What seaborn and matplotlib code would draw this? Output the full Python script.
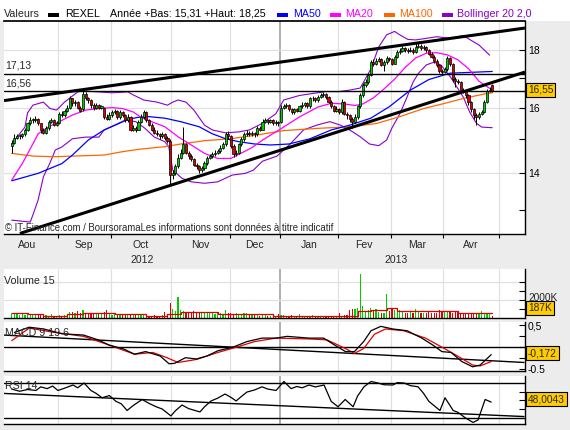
import numpy as np
import pandas as pd
import matplotlib
matplotlib.use("Agg")
import matplotlib.pyplot as plt
import matplotlib.transforms as mtransforms
from matplotlib.patches import Rectangle
from matplotlib.ticker import FixedLocator, FixedFormatter, NullLocator
import seaborn as sns

sns.set_theme(style="white")
plt.rcParams["font.family"] = ["Liberation Sans", "DejaVu Sans"]

W, H = 570, 430
BG = "#ECECEC"
GRID = "#E0E0E0"

# ---------------- data (REXEL, daily, 8 Aug 2012 -> 26 Apr 2013) ----------------
opens = [14.80, 14.90, 15.05, 15.10, 15.10, 15.15, 15.30, 15.50, 15.60, 15.60,
         15.65, 15.50, 15.30, 15.20, 15.35, 15.55, 15.60, 15.45, 15.50, 15.80,
         15.75, 15.90, 16.00, 16.30, 16.15, 16.20, 16.00, 15.95, 16.45, 16.30,
         16.25, 16.10, 16.00, 16.10, 16.00, 16.00, 15.70, 15.65, 15.75, 15.85,
         15.90, 15.70, 15.85, 15.75, 15.60, 15.70, 15.30, 15.35, 15.30, 15.55,
         15.70, 15.85, 15.60, 15.45, 15.30, 15.20, 15.15, 15.10, 15.15, 15.05,
         14.95, 13.95, 14.00, 14.20, 14.45, 14.60, 14.85, 14.60, 14.50, 14.40,
         14.25, 14.20, 14.10, 14.15, 14.30, 14.45, 14.50, 14.55, 14.60, 14.65,
         14.75, 14.85, 15.15, 15.10, 14.80, 14.55, 14.60, 14.85, 15.00, 15.15,
         15.20, 15.15, 15.20, 15.15, 15.35, 15.30, 15.55, 15.60, 15.55, 15.60,
         15.50, 15.55, 15.55, 16.00, 16.05, 16.10, 15.95, 15.85, 15.95, 15.90,
         16.05, 16.10, 16.15, 16.05, 16.30, 16.30, 16.25, 16.35, 16.40, 16.45,
         16.35, 16.20, 16.05, 15.90, 15.95, 15.85, 16.20, 15.80, 15.75, 15.65,
         15.55, 15.70, 16.05, 16.40, 16.75, 16.85, 17.10, 17.55, 17.50, 17.60,
         17.65, 17.45, 17.55, 17.70, 17.65, 17.50, 17.75, 17.90, 17.95, 18.05,
         18.00, 17.95, 18.00, 17.90, 18.10, 18.15, 18.05, 18.10, 18.00, 17.85,
         17.75, 17.60, 17.45, 17.25, 17.20, 17.30, 17.70, 17.50, 16.95, 16.90,
         16.85, 16.60, 16.55, 16.40, 16.20, 15.95, 15.75, 15.70, 15.80, 15.85,
         16.20, 16.55, 16.75]
highs = [14.98, 15.15, 15.15, 15.15, 15.20, 15.35, 15.55, 15.70, 15.68, 15.72,
         15.68, 15.52, 15.35, 15.40, 15.60, 15.68, 15.62, 15.58, 15.85, 15.88,
         15.95, 16.10, 16.38, 16.32, 16.25, 16.22, 16.05, 16.62, 16.50, 16.35,
         16.28, 16.15, 16.15, 16.12, 16.10, 16.02, 15.78, 15.85, 15.92, 15.95,
         15.92, 15.92, 15.90, 15.80, 15.78, 15.72, 15.45, 15.40, 15.60, 15.78,
         15.92, 15.88, 15.62, 15.50, 15.38, 15.30, 15.20, 15.22, 15.20, 15.10,
         15.00, 14.10, 14.28, 14.55, 14.70, 15.38, 14.88, 14.65, 14.55, 14.45,
         14.30, 14.25, 14.22, 14.35, 14.50, 14.55, 14.62, 14.68, 14.72, 14.82,
         14.92, 15.22, 15.25, 15.12, 14.85, 14.68, 14.90, 15.08, 15.22, 15.28,
         15.25, 15.25, 15.22, 15.40, 15.42, 15.62, 15.68, 15.65, 15.65, 15.62,
         15.60, 15.58, 16.08, 16.12, 16.15, 16.12, 16.00, 16.00, 16.00, 16.10,
         16.18, 16.20, 16.20, 16.35, 16.38, 16.35, 16.42, 16.48, 16.52, 16.48,
         16.38, 16.25, 16.08, 16.05, 16.00, 16.28, 16.22, 15.85, 15.80, 15.70,
         15.78, 16.10, 16.48, 16.82, 16.95, 17.18, 17.62, 17.65, 17.68, 17.72,
         17.68, 17.62, 17.78, 17.75, 17.70, 17.82, 17.98, 18.05, 18.12, 18.10,
         18.05, 18.08, 18.05, 18.25, 18.25, 18.20, 18.18, 18.15, 18.02, 17.90,
         17.80, 17.65, 17.50, 17.32, 17.38, 17.78, 17.75, 17.52, 17.02, 16.95,
         16.88, 16.65, 16.58, 16.45, 16.22, 16.00, 15.82, 15.85, 15.92, 16.25,
         16.62, 16.70, 16.78]
lows = [14.58, 14.85, 15.00, 15.02, 15.05, 15.10, 15.25, 15.45, 15.52, 15.55,
        15.45, 15.20, 15.15, 15.15, 15.30, 15.50, 15.40, 15.40, 15.48, 15.70,
        15.70, 15.85, 15.95, 16.05, 16.05, 15.95, 15.85, 15.90, 16.25, 16.15,
        16.00, 15.92, 15.95, 15.95, 15.95, 15.65, 15.60, 15.60, 15.70, 15.78,
        15.65, 15.65, 15.70, 15.55, 15.55, 15.25, 15.25, 15.22, 15.28, 15.50,
        15.65, 15.55, 15.40, 15.25, 15.15, 15.10, 15.02, 15.05, 14.98, 14.90,
        13.70, 13.85, 13.95, 14.15, 14.40, 14.55, 14.55, 14.42, 14.35, 14.20,
        14.12, 14.02, 14.05, 14.10, 14.25, 14.40, 14.45, 14.50, 14.55, 14.60,
        14.70, 14.80, 15.02, 14.75, 14.48, 14.50, 14.55, 14.80, 14.95, 15.10,
        15.10, 15.10, 15.08, 15.10, 15.25, 15.28, 15.50, 15.48, 15.50, 15.45,
        15.45, 15.42, 15.50, 15.95, 15.98, 15.90, 15.80, 15.80, 15.85, 15.85,
        16.00, 16.02, 16.00, 16.00, 16.22, 16.18, 16.20, 16.30, 16.35, 16.28,
        16.15, 15.98, 15.85, 15.85, 15.78, 15.80, 15.75, 15.62, 15.55, 15.35,
        15.50, 15.65, 16.00, 16.35, 16.70, 16.80, 17.05, 17.40, 17.45, 17.55,
        17.40, 17.25, 17.50, 17.58, 17.45, 17.48, 17.70, 17.85, 17.90, 17.92,
        17.88, 17.90, 17.85, 17.88, 18.05, 18.00, 18.00, 17.92, 17.80, 17.68,
        17.52, 17.38, 17.18, 17.12, 17.15, 17.25, 17.42, 16.85, 16.70, 16.78,
        16.55, 16.48, 16.32, 16.10, 15.85, 15.65, 15.45, 15.65, 15.75, 15.82,
        16.15, 16.50, 16.50]
closes = [14.90, 15.05, 15.10, 15.10, 15.15, 15.30, 15.50, 15.60, 15.60, 15.65,
          15.50, 15.30, 15.20, 15.35, 15.55, 15.60, 15.45, 15.50, 15.80, 15.75,
          15.90, 16.00, 16.30, 16.15, 16.20, 16.00, 15.90, 16.45, 16.30, 16.25,
          16.10, 16.00, 16.10, 16.00, 16.05, 15.70, 15.65, 15.75, 15.85, 15.90,
          15.70, 15.85, 15.75, 15.60, 15.70, 15.30, 15.35, 15.30, 15.55, 15.70,
          15.85, 15.60, 15.45, 15.30, 15.20, 15.15, 15.10, 15.15, 15.05, 14.95,
          13.95, 14.00, 14.20, 14.45, 14.60, 14.85, 14.60, 14.50, 14.40, 14.25,
          14.20, 14.10, 14.15, 14.30, 14.45, 14.50, 14.55, 14.60, 14.65, 14.75,
          14.85, 15.15, 15.10, 14.80, 14.55, 14.60, 14.85, 15.00, 15.15, 15.20,
          15.15, 15.20, 15.15, 15.35, 15.30, 15.55, 15.60, 15.55, 15.60, 15.50,
          15.55, 15.50, 16.00, 16.05, 16.10, 15.95, 15.85, 15.95, 15.90, 16.05,
          16.10, 16.15, 16.05, 16.30, 16.30, 16.25, 16.35, 16.40, 16.45, 16.35,
          16.20, 16.05, 15.90, 15.95, 15.85, 16.20, 15.80, 15.75, 15.65, 15.55,
          15.70, 16.05, 16.40, 16.75, 16.85, 17.10, 17.55, 17.50, 17.60, 17.65,
          17.45, 17.55, 17.70, 17.65, 17.50, 17.75, 17.90, 17.95, 18.05, 18.00,
          17.95, 18.00, 17.90, 18.10, 18.15, 18.05, 18.10, 18.00, 17.85, 17.75,
          17.60, 17.45, 17.25, 17.20, 17.30, 17.70, 17.50, 16.95, 16.90, 16.85,
          16.60, 16.55, 16.40, 16.20, 15.95, 15.75, 15.70, 15.80, 15.85, 16.20,
          16.55, 16.60, 16.55]
volume_k = [560, 450, 520, 380, 420, 350, 560, 480, 380, 420, 300, 280, 250, 300, 260,
            420, 230, 260, 300, 250, 380, 420,
            700, 650, 520, 720, 600, 850, 560, 480, 520,
            560, 500, 580, 520, 620, 880, 420, 380, 450, 360,
            400, 350, 420, 380, 450, 400, 300, 280, 320, 300,
            220, 260, 200, 280, 240, 250, 320, 700, 450,
            1600, 950, 800, 2300, 900,
            800, 700, 650, 600, 750, 550, 600, 500, 650, 580, 520, 600, 480, 550, 500, 450,
            880, 560, 520, 480, 600, 460, 400, 520, 560, 480,
            300, 280, 320, 260, 350, 280, 250, 230, 220, 200, 420,
            380, 280, 250, 230, 280, 200, 230, 400, 220, 200, 250, 230, 280, 200,
            230, 190, 220, 200, 250, 220, 200, 230, 550, 250, 280, 300, 900, 1000,
            950, 1150, 4900, 1300, 800, 900, 1100, 850, 950, 700, 520,
            600, 2600, 800, 950, 900, 750, 850, 620, 580, 520,
            620, 580, 1000, 720, 540, 580, 500, 680, 600, 540, 500,
            850, 800, 750, 700, 650, 600, 700, 650, 550, 600, 500,
            550, 480, 520, 450, 500, 800, 520, 450, 500, 190]

# indicator curves (x = trading-day index)
ma20_x = [0, 4, 8, 10, 14, 18, 23, 28, 33, 38, 42, 46, 49, 53, 58, 63, 68, 73, 78, 83,
          88, 91, 95, 102, 109, 116, 121, 126, 130, 133, 137, 141, 145, 149, 153, 157, 161, 165, 169, 173,
          177, 182]
ma20_v = [13.81, 14.28, 14.86, 15.17, 15.39, 15.55, 15.76, 15.92, 15.97, 16.00, 15.97, 15.86, 15.69, 15.55,
          15.39, 15.08, 14.83, 14.58, 14.43, 14.43, 14.63, 14.75, 14.98, 15.33, 15.70, 16.02, 16.14, 16.12,
          16.07, 16.12, 16.32, 16.62, 16.95, 17.36, 17.70, 17.87, 17.89, 17.81, 17.63, 17.32, 16.88, 16.58]
ma50_x = [0, 10, 19, 23, 29, 35, 40, 44, 48, 52, 58, 64, 71, 76, 81, 86, 92, 98, 105, 113,
          121, 128, 136, 143, 151, 158, 166, 174, 182]
ma50_v = [13.79, 14.00, 14.28, 14.53, 14.98, 15.29, 15.47, 15.62, 15.69, 15.71, 15.66, 15.55, 15.39, 15.17,
          15.02, 14.93, 14.86, 14.83, 14.86, 15.02, 15.29, 15.44, 15.66, 16.03, 16.58, 16.94, 17.16, 17.19, 17.22]
ma100_x = [0, 8, 16, 35, 42, 48, 58, 64, 73, 83, 94, 103, 116, 128, 138, 147, 156, 164, 171, 179, 182]
ma100_v = [14.58, 14.50, 14.48, 14.53, 14.63, 14.70, 14.78, 14.86, 14.96, 15.02, 15.15, 15.27, 15.34, 15.39,
           15.49, 15.71, 15.97, 16.14, 16.30, 16.45, 16.49]
bb_up_x = [0, 5, 6, 8, 12, 14.5, 17, 20, 25, 27, 33, 38, 44, 46, 50, 55, 59, 61, 63, 66,
           69, 73, 76, 81, 86, 90, 95, 100, 103, 109, 115, 119, 124, 128, 132, 136, 139, 142, 145, 147,
           150, 153, 157, 161, 166, 171, 177, 181]
bb_up_v = [14.86, 15.38, 15.83, 16.08, 16.18, 15.97, 15.92, 16.18, 16.52, 16.55, 16.52, 16.49, 16.52, 16.42,
           16.25, 16.18, 16.08, 16.18, 16.25, 16.18, 15.92, 15.44, 15.29, 15.20, 15.23, 15.29, 15.50, 15.80,
           16.25, 16.40, 16.48, 16.53, 16.53, 16.58, 16.65, 17.30, 18.10, 18.55, 18.68, 18.55, 18.38, 18.36,
           18.42, 18.48, 18.42, 18.52, 18.17, 17.80]
bb_lo_x = [0, 7, 8, 10, 12, 14.5, 16.5, 19, 23, 28, 33, 35, 39, 43, 47, 50.5, 54, 58, 59.5, 61,
           64.5, 68, 73, 78, 83.5, 88.5, 91.5, 95, 100.5, 105.5, 110.5, 115.5, 120.5, 124.5, 128, 132, 135.5,
           139, 142, 144, 147, 149.5, 152, 154, 157, 160, 162.5, 166, 171, 173.5, 176, 178, 182]
bb_lo_v = [12.73, 12.68, 12.86, 13.26, 13.90, 14.30, 14.68, 14.77, 15.02, 15.07, 15.07, 15.29, 15.44, 15.60,
           15.55, 15.34, 15.07, 14.93, 14.77, 14.09, 13.86, 13.76, 13.72, 13.76, 13.95, 14.00, 14.09, 14.35,
           14.50, 14.86, 15.29, 15.44, 15.55, 15.44, 15.29, 15.08, 14.86, 14.81, 14.98, 15.35, 15.80, 16.30,
           16.85, 17.15, 17.45, 17.55, 17.45, 17.05, 16.35, 15.85, 15.50, 15.38, 15.36]
vol_ma_x = [0, 6, 12, 21, 27, 39, 51, 59, 64, 78, 99, 131, 136, 142, 146, 153, 162, 169, 182]
vol_ma_v = [520, 400, 240, 440, 600, 400, 240, 400, 640, 440, 240, 720, 840, 1120, 800, 720, 720, 520, 520]
macd_x = [1, 6.6, 12.1, 19, 27.2, 32.7, 36.9, 42.4, 46.5, 50.7, 56.2, 59.6, 61.7, 65.8, 70, 74, 78.1, 83.7,
          89.1, 94.8, 100.1, 104.3, 112.6, 118.1, 122.3, 126.4, 129.8, 133.3, 136.1, 139.8, 144.3, 149.7,
          155.3, 159.5, 162.9, 166.4, 170.5, 174.6, 177.4, 181.6]
macd_v = [0.34, 0.46, 0.42, 0.31, 0.28, 0.17, 0.05, -0.04, -0.16, -0.10, -0.20, -0.38, -0.37, -0.24, -0.27,
          -0.20, -0.08, 0.00, 0.13, 0.21, 0.21, 0.25, 0.21, 0.21, 0.05, -0.10, -0.10, 0.13, 0.38, 0.48, 0.42,
          0.38, 0.21, 0.05, -0.10, -0.12, -0.33, -0.45, -0.41, -0.17]
signal_x = [0, 6.6, 16.2, 27.2, 36.9, 46.5, 53.4, 58.8, 63, 70, 78.1, 85, 92, 100.1, 112.6, 119.4, 126.4,
            129.8, 133.3, 137.4, 141.6, 148.4, 156.7, 163.6, 168.8, 174.6, 177.4, 181.6]
signal_v = [0.15, 0.44, 0.34, 0.25, 0.05, -0.16, -0.12, -0.24, -0.35, -0.28, -0.12, 0.00, 0.13, 0.21, 0.19,
            0.17, -0.03, -0.14, -0.03, 0.30, 0.42, 0.38, 0.21, -0.02, -0.20, -0.41, -0.43, -0.33]
rsi_x = [0, 3, 6, 9.2, 11, 13.4, 15.5, 17.5, 20, 23.2, 25, 27.4, 30, 32, 34.2, 37, 39.5, 41.5, 43.7, 46,
         49.4, 52, 54.7, 57, 60.3, 62, 64.5, 67, 71.3, 73, 75.5, 78, 80.8, 83, 85, 87, 89.1, 92, 94.8, 97,
         100.1, 103.1, 105.8, 108, 110, 112.6, 115, 118.3, 121, 123.6, 126.3, 129.3, 131, 133.4, 136.1, 138.7,
         141, 144.4, 146, 148.6, 151, 153.9, 156, 158, 162.2, 164.1, 167.2, 169, 171.7, 174.7, 176.6, 179.3,
         181.6]
rsi_v = [63, 60.5, 62.5, 61.4, 65.6, 63.5, 66.5, 61.4, 64, 67.7, 64.5, 70, 61.4, 58, 53, 55.5, 48.8, 46, 38.3,
         44, 51, 46.5, 42.6, 40, 32, 38, 44.6, 40.5, 36.6, 42.5, 49.3, 52.5, 57.3, 53.5, 49.3, 54.5, 59.6, 62,
         65.6, 63, 61.4, 71.8, 63.5, 66, 64.5, 67.7, 65.5, 67.7, 48.8, 42.6, 51, 42.6, 55, 65.6, 71.8, 70,
         68, 67.7, 70.5, 70, 67, 65.6, 58, 48.8, 38.3, 53, 38.3, 36.2, 30, 24.5, 27.3, 51, 48.0]

# trend lines drawn on the chart: (x0, y0, x1, y1)
trend_main = [(-2.9, 16.23, 194.4, 18.81), (3.1, 12.39, 194.4, 17.20)]
levels = [17.13, 16.56]
trend_macd = (-3.1, 0.28, 194.0, -0.35)
trend_rsi = (-3.1, 58.0, 194.0, 31.3)
months = ["Aou", "Sep", "Oct", "Nov", "Dec", "Jan", "Fev", "Mar", "Avr"]

# trading calendar -> month boundaries in candle index units
holidays = pd.to_datetime(["2012-12-25", "2012-12-26", "2013-01-01", "2013-03-29", "2013-04-01", "2013-05-01"])
days = pd.bdate_range("2012-08-01", "2013-05-31")
days = days[~days.isin(holidays)]
first = days.get_loc(pd.Timestamp("2012-08-08"))
pos = np.arange(len(days)) - first
new_month = np.r_[True, days.month[1:] != days.month[:-1]]
bounds = pos[new_month] - 0.5
year_bound = pos[days.get_loc(pd.Timestamp("2013-01-02"))] - 0.5

XLIM = (-2.92, 194.4)
X0, X1 = 4, 525

fig = plt.figure(figsize=(W / 100, H / 100), dpi=100)
fig.patch.set_facecolor(BG)
fig.add_artist(Rectangle((0, 1 - 21 / H), 1, 21 / H, transform=fig.transFigure,
                         facecolor="white", edgecolor="none", zorder=-5))


def panel(y0, y1):
    ax = fig.add_axes([X0 / W, 1 - y1 / H, (X1 - X0) / W, (y1 - y0) / H])
    ax.set_facecolor("white")
    ax.set_xlim(XLIM)
    ax.spines["left"].set_visible(False)
    ax.spines["top"].set_visible(False)
    for s in ["bottom", "right"]:
        ax.spines[s].set_color("black")
        ax.spines[s].set_linewidth(1.0)
    ax.yaxis.tick_right()
    ax.tick_params(axis="y", which="both", direction="in", length=4, width=0.8, colors="black",
                   labelsize=7.5, pad=2, left=False, right=True)
    ax.tick_params(axis="x", bottom=False, labelbottom=False)
    for b in bounds:
        if XLIM[0] < b < XLIM[1]:
            ax.axvline(b, color="#999999" if b == year_bound else GRID,
                       lw=1.1 if b == year_bound else 0.9, zorder=0)
    return ax


def ftext(x, y, s, **kw):
    kw.setdefault("fontsize", 7.5)
    kw.setdefault("va", "center")
    return fig.text(x / W, 1 - y / H, s, **kw)


def ybox(x, y, s):
    ftext(x, y, s, ha="left", fontsize=7.3, zorder=10,
          bbox=dict(boxstyle="square,pad=0.2", fc="#FFCC00", ec="black", lw=0.8))


# ---------------- main price panel ----------------
ax = panel(21, 234)
ax.spines["top"].set_visible(True)
ax.spines["top"].set_color("black")
ax.set_yscale("log")
ax.set_ylim(12.376, 19.08)
ax.yaxis.set_major_locator(FixedLocator([13, 14, 15, 16, 17, 18]))
ax.yaxis.set_major_formatter(FixedFormatter(["", "14", "", "16", "", "18"]))
ax.yaxis.set_minor_locator(NullLocator())
for lv in [14, 16, 18]:
    ax.axhline(lv, color=GRID, lw=0.9, zorder=0)

ax.set_xticks([b for b in bounds if XLIM[0] < b < XLIM[1]])
ax.tick_params(axis="x", bottom=True, direction="out", length=3, width=0.8, color="black", labelbottom=False)

sns.lineplot(x=bb_up_x, y=bb_up_v, ax=ax, color="#8800CC", lw=0.8, sort=False, estimator=None, zorder=2)
sns.lineplot(x=bb_lo_x, y=bb_lo_v, ax=ax, color="#8800CC", lw=0.8, sort=False, estimator=None, zorder=2)
sns.lineplot(x=ma100_x, y=ma100_v, ax=ax, color="#FF6600", lw=0.9, sort=False, estimator=None, zorder=2)
sns.lineplot(x=ma50_x, y=ma50_v, ax=ax, color="#0000FF", lw=0.9, sort=False, estimator=None, zorder=2)
sns.lineplot(x=ma20_x, y=ma20_v, ax=ax, color="#FF00FF", lw=0.9, sort=False, estimator=None, zorder=2)

idx = np.arange(len(closes))
o = np.array(opens)
c = np.array(closes)
up = c >= o
cols = np.where(up, "#00CC00", "#DD0000")
ax.vlines(idx, lows, highs, color="black", lw=0.7, zorder=3)
body = np.maximum(np.abs(c - o), 0.02)
ax.bar(idx, body, bottom=np.minimum(o, c), width=0.8, color=cols, edgecolor="black", linewidth=0.5, zorder=4)

for x0, y0, x1, y1 in trend_main:
    ax.plot([x0, x1], [y0, y1], color="black", lw=2.2, zorder=5, solid_capstyle="butt")
for lv in levels:
    ax.axhline(lv, color="black", lw=1.0, zorder=5)
ftext(5, 66, "17,13", ha="left")
ftext(5, 83, "16,56", ha="left")
ftext(5, 228, "\u00a9 IT-Finance.com / BoursoramaLes informations sont donn\u00e9es \u00e0 titre indicatif",
      ha="left", fontsize=6.9)
ybox(528, 90, "16,55")

trans = mtransforms.blended_transform_factory(ax.transData, fig.transFigure)
for k, name in enumerate(months):
    ax.text((bounds[k] + bounds[k + 1]) / 2, 1 - 245 / H, name, transform=trans,
            ha="center", va="center", fontsize=7.5, clip_on=False)
ax.text(49.3, 1 - 260 / H, "2012", transform=trans, ha="center", va="center", fontsize=7.5, clip_on=False)
ax.text(145.7, 1 - 260 / H, "2013", transform=trans, ha="center", va="center", fontsize=7.5, clip_on=False)

# legend row
ftext(3.6, 14, "Valeurs", ha="left", fontsize=7.7)
leg = [(48, "black", 65, "REXEL", "black"),
       (None, None, 110, "Ann\u00e9e +Bas: 15,31 +Haut: 18,25", "black"),
       (277, "#0000FF", 293, "MA50", "#0000FF"),
       (330, "#FF00FF", 345, "MA20", "#FF00FF"),
       (384, "#FF6600", 399, "MA100", "#FF6600"),
       (442, "#8800CC", 457, "Bollinger 20 2,0", "#8800CC")]
for rx, rc, tx, s, tc in leg:
    if rx is not None:
        fig.add_artist(Rectangle((rx / W, 1 - 16.5 / H), 11 / W, 4 / H, transform=fig.transFigure,
                                 facecolor=rc, edgecolor="none"))
    ftext(tx, 14, s, ha="left", fontsize=7.7, color=tc)

# ---------------- volume panel ----------------
axv = panel(269, 318)
axv.set_ylim(0, 5400)
axv.set_yticks([1000, 2000, 3000, 4000])
axv.set_yticklabels([])
for lv in [2000, 4000]:
    axv.axhline(lv, color=GRID, lw=0.9, zorder=0)
axv.bar(idx, volume_k, width=0.45, color=cols, linewidth=0, zorder=2)
sns.lineplot(x=vol_ma_x, y=vol_ma_v, ax=axv, color="#DD0000", lw=0.9, drawstyle="steps-post",
             sort=False, estimator=None, zorder=3)
ftext(4, 281, "Volume 15", ha="left", fontsize=7.7)
ftext(528, 298, "2000K", ha="left", fontsize=7.3)
ybox(528, 308, "187K")

# ---------------- MACD panel ----------------
axm = panel(322, 371)
axm.set_ylim(-0.546, 0.58)
axm.set_yticks([-0.5, -0.25, 0, 0.25, 0.5])
axm.set_yticklabels(["-0.5", "", "", "", "0,5"])
axm.axhline(0, color="black", lw=1.0, zorder=2)
axm.plot([trend_macd[0], trend_macd[2]], [trend_macd[1], trend_macd[3]], color="black", lw=1.0, zorder=2)
ftext(5, 333, "MACD 9 19 6", ha="left", fontsize=7.7, zorder=1)
sns.lineplot(x=signal_x, y=signal_v, ax=axm, color="#DD0000", lw=0.9, sort=False, estimator=None, zorder=3)
sns.lineplot(x=macd_x, y=macd_v, ax=axm, color="black", lw=0.9, sort=False, estimator=None, zorder=4)
ybox(528, 353, "-0,172")

# ---------------- RSI panel ----------------
axr = panel(376, 424)
axr.set_ylim(22.7, 78.1)
axr.set_yticks([40, 50, 60])
axr.set_yticklabels([])
for lv in [70, 30]:
    axr.axhline(lv, color="black", lw=1.0, zorder=2)
axr.plot([trend_rsi[0], trend_rsi[2]], [trend_rsi[1], trend_rsi[3]], color="black", lw=1.0, zorder=2)
ftext(5, 386, "RSI 14", ha="left", fontsize=7.7)
sns.lineplot(x=rsi_x, y=rsi_v, ax=axr, color="black", lw=0.9, sort=False, estimator=None, zorder=3)
ybox(528, 399, "48,0043")

for a in [ax, axv, axm, axr]:
    a.set_xlabel("")
    a.set_ylabel("")

fig.savefig("out.png", dpi=100, facecolor=fig.get_facecolor())
